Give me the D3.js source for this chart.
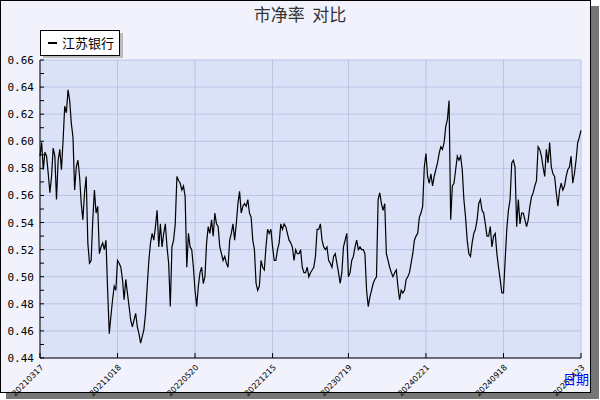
<!DOCTYPE html>
<html><head><meta charset="utf-8">
<script src="https://cdn.jsdelivr.net/npm/d3@7"></script>
<style>body{margin:0;background:#fff}svg{display:block}</style>
</head><body><svg id="c" width="600" height="400"></svg>
<script>
const seriesName = "江苏银行";
const values = [
.589,.599,.579,.592,.589,.576,.562,.574,.595,.589,.557,.586,.594,.579,.601,.626,.621,.638,.630,.613,.603,.564,.581,.586,.574,.554,.542,.562,.574,.525,.510,.512,.542,.564,.547,.552,.517,.522,.525,.520,.527,.490,.458,.471,.483,.493,.490,.512,.510,.507,.498,.483,.498,.488,.478,.468,.463,.468,.473,.463,.458,.451,.456,.461,.473,.493,.512,.525,.532,.527,.537,.549,.522,.539,.522,.532,.539,.522,.510,.478,.522,.527,.539,.574,.571,.569,.564,.567,.559,.507,.532,.522,.520,.507,.490,.478,.493,.503,.507,.495,.500,.525,.537,.532,.542,.530,.547,.539,.537,.522,.517,.512,.515,.510,.507,.527,.532,.539,
.527,.539,.554,.563,.547,.552,.554,.552,.557,.547,.544,.527,.520,.495,.490,.493,.512,.507,.505,.522,.535,.532,.535,.522,.512,.512,.520,.525,.539,.535,.539,.537,.532,.527,.525,.522,.512,.520,.517,.517,.520,.507,.503,.503,.507,.500,.503,.505,.507,.515,.535,.535,.539,.527,.522,.520,.522,.512,.510,.507,.515,.517,.510,.503,.495,.503,.522,.527,.532,.500,.503,.512,.515,.522,.527,.520,.522,.520,.520,.517,.490,.478,.485,.490,.495,.498,.500,.557,.562,.554,.549,.554,.517,.512,.507,.503,.500,.503,.505,.493,.483,.490,.488,.490,.498,.500,.503,.510,.517,.527,.530,.532,.544,.547,.552,.581,.591,.574,.569,.576,
.567,.574,.579,.584,.591,.596,.594,.599,.611,.616,.630,.542,.567,.569,.579,.589,.586,.589,.579,.557,.544,.527,.517,.515,.525,.532,.535,.542,.554,.557,.549,.547,.539,.530,.530,.537,.522,.530,.532,.517,.507,.498,.488,.488,.512,.535,.549,.557,.584,.586,.581,.537,.557,.539,.547,.547,.542,.537,.542,.552,.559,.562,.567,.571,.596,.594,.589,.581,.574,.594,.584,.599,.581,.576,.574,.562,.552,.564,.569,.564,.567,.574,.579,.581,.589,.569,.576,.586,.599,.603,.608];
const xTickLabels = ["20210317","20211018","20220520","20221215","20230719","20240221","20240918","20250423"];
const yTicks = [0.44,0.46,0.48,0.50,0.52,0.54,0.56,0.58,0.60,0.62,0.64,0.66];

const svg = d3.select("#c");
svg.append("rect").attr("x",6).attr("y",6).attr("width",593).attr("height",393).attr("fill","#777");
svg.append("rect").attr("x",0.5).attr("y",0.5).attr("width",590).attr("height",392).attr("fill","#f1f2fb").attr("stroke","#000");

const L=40,R=581,T=60,B=358;
const x = d3.scaleLinear().domain([0,values.length-1]).range([L,R]);
const y = d3.scaleLinear().domain([0.44,0.66]).range([B,T]);
svg.append("rect").attr("x",L).attr("y",T).attr("width",R-L).attr("height",B-T).attr("fill","#dbe2f7");
const tickIdx = xTickLabels.map((d,i)=>Math.round(i*(values.length-1)/(xTickLabels.length-1)));
const g = svg.append("g");
g.selectAll(".hg").data(yTicks).join("line").attr("x1",L).attr("x2",R).attr("y1",d=>y(d)).attr("y2",d=>y(d)).attr("stroke","#b9c5e6");
g.selectAll(".vg").data(tickIdx).join("line").attr("y1",T).attr("y2",B).attr("x1",d=>x(d)).attr("x2",d=>x(d)).attr("stroke","#b9c5e6");

svg.append("path").datum(values).attr("fill","none").attr("stroke","#000").attr("stroke-width",1.2)
  .attr("d",d3.line().x((d,i)=>x(i)).y(d=>y(d)));

svg.append("line").attr("x1",L).attr("x2",L).attr("y1",T).attr("y2",B).attr("stroke","#000");
svg.append("line").attr("x1",L).attr("x2",R).attr("y1",B).attr("y2",B).attr("stroke","#000");
const minor = d3.range(0.44,0.6601,0.01);
svg.selectAll(".yt").data(minor).join("line").attr("x1",L).attr("x2",L+4).attr("y1",d=>y(d)).attr("y2",d=>y(d)).attr("stroke","#000");
svg.selectAll(".xt").data(tickIdx).join("line").attr("x1",d=>x(d)).attr("x2",d=>x(d)).attr("y1",B).attr("y2",B-5).attr("stroke","#000");
svg.selectAll(".yl").data(yTicks).join("text").attr("x",L-6).attr("y",d=>y(d)+4).attr("text-anchor","end")
  .attr("font-family","DejaVu Sans Mono").attr("font-size",11).attr("fill","#000").text(d=>d.toFixed(2));
svg.selectAll(".xl").data(tickIdx).join("text")
  .attr("transform",d=>`translate(${x(d)+4},${B+10}) rotate(-45)`).attr("text-anchor","end")
  .attr("font-family","DejaVu Sans").attr("font-size",8).attr("fill","#000").text((d,i)=>xTickLabels[i]);
svg.append("text").attr("x",576).attr("y",384).attr("text-anchor","middle").attr("font-family","Noto Sans CJK SC").attr("font-size",13).attr("fill","#0000ff").text("日期");
svg.append("text").attr("x",300).attr("y",21).attr("text-anchor","middle").attr("xml:space","preserve").style("white-space","pre")
  .attr("font-family","Noto Sans CJK SC").attr("font-size",17).attr("fill","#333").text("市净率  对比");
svg.append("rect").attr("x",43).attr("y",33).attr("width",80).attr("height",25).attr("fill","#bbb");
svg.append("rect").attr("x",40.5).attr("y",30.5).attr("width",79).attr("height",25).attr("fill","#fff").attr("stroke","#000");
svg.append("line").attr("x1",48).attr("x2",57).attr("y1",43).attr("y2",43).attr("stroke","#000").attr("stroke-width",2);
svg.append("text").attr("x",62).attr("y",48).attr("font-family","Noto Sans CJK SC").attr("font-size",13).attr("fill","#000").text(seriesName);
</script></body></html>
